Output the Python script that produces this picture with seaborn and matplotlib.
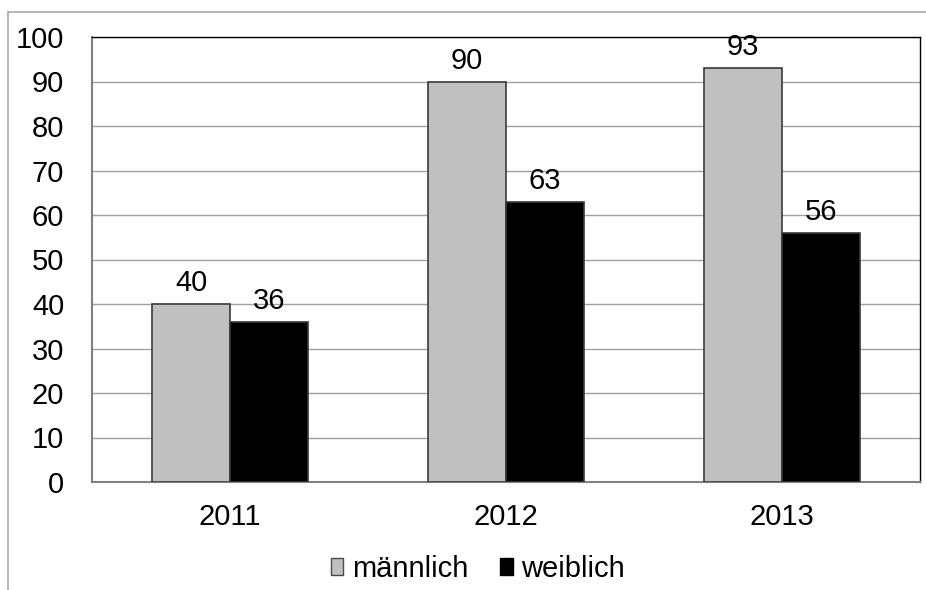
import matplotlib
matplotlib.use("Agg")
import matplotlib.pyplot as plt
from matplotlib.lines import Line2D
from matplotlib.patches import Patch
import seaborn as sns
import pandas as pd

years = ["2011", "2012", "2013"]
maennlich = [40, 90, 93]
weiblich = [36, 63, 56]
series_names = ["männlich", "weiblich"]
yticks = [0, 10, 20, 30, 40, 50, 60, 70, 80, 90, 100]

df = pd.DataFrame({
    "Jahr": years * 2,
    "Wert": maennlich + weiblich,
    "Geschlecht": [series_names[0]] * len(years) + [series_names[1]] * len(years),
})

sns.set_style("white")
plt.rcParams["font.family"] = ["Liberation Sans", "DejaVu Sans"]
plt.rcParams["text.color"] = "black"
plt.rcParams["xtick.color"] = "black"
plt.rcParams["ytick.color"] = "black"

FS = 21

fig = plt.figure(figsize=(9.26, 5.90), dpi=100)
ax = fig.add_axes([92 / 926, 1 - 482 / 590, (920 - 92) / 926, (482 - 37) / 590])

palette = {series_names[0]: "#C0C0C0", series_names[1]: "#000000"}
sns.barplot(data=df, x="Jahr", y="Wert", hue="Geschlecht", palette=palette,
            width=0.565, ax=ax, edgecolor="#3a3a3a", linewidth=1.2,
            saturation=1, legend=False, zorder=3)

ax.set_ylim(0, 100)
ax.set_yticks(yticks)
ax.set_xlim(-0.5, len(years) - 0.5)
ax.yaxis.grid(True, color="#a0a0a0", linewidth=1.0, zorder=0)
ax.xaxis.grid(False)
ax.set_axisbelow(True)
ax.set_xlabel("")
ax.set_ylabel("")
ax.tick_params(axis="both", labelsize=FS, length=0, colors="black")
ax.tick_params(axis="y", pad=20)
ax.tick_params(axis="x", pad=15)

for side in ["top", "right"]:
    ax.spines[side].set_color("#000000")
    ax.spines[side].set_linewidth(1.0)
ax.spines["left"].set_color("#808080")
ax.spines["left"].set_linewidth(1.5)
ax.spines["bottom"].set_color("#808080")
ax.spines["bottom"].set_linewidth(1.5)

for container in ax.containers:
    ax.bar_label(container, fmt="%d", fontsize=FS, padding=5, color="black")

handles = [Patch(facecolor="#C0C0C0", edgecolor="#4a4a4a", linewidth=1.0),
           Patch(facecolor="#000000", edgecolor="#000000", linewidth=1.0)]
fig.legend(handles, series_names, loc="center", bbox_to_anchor=(478 / 926, 1 - 569 / 590),
           ncol=2, frameon=False, fontsize=FS, handlelength=0.42, handleheight=0.5,
           handletextpad=0.3, columnspacing=1.1, borderaxespad=0)

# chart area outline (top and left edges)
fig.add_artist(Line2D([8 / 926, 8 / 926], [0, 1 - 12 / 590], color="#aaaaaa", linewidth=1.2))
fig.add_artist(Line2D([8 / 926, 1], [1 - 12 / 590, 1 - 12 / 590], color="#aaaaaa", linewidth=1.2))

fig.savefig("out.png", dpi=100)
